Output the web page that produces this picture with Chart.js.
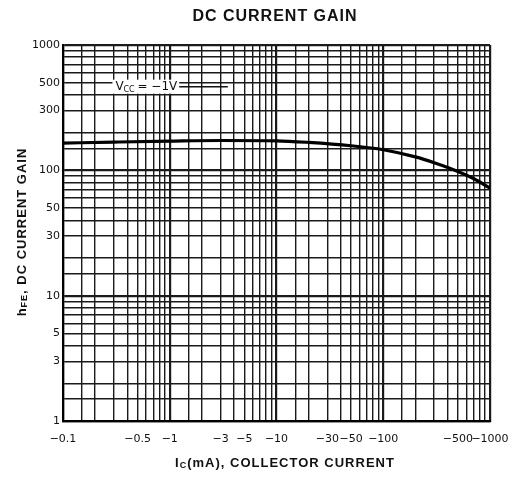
<!DOCTYPE html>
<html><head><meta charset="utf-8">
<script src="https://cdn.jsdelivr.net/npm/chart.js@4.4.1/dist/chart.umd.min.js"></script>
<style>html,body{margin:0;padding:0;background:#fff}canvas{display:block}</style>
</head><body>
<canvas id="c" width="516" height="483"></canvas>
<script>
// ---- data ----
const collectorCurrent = [0.1, 0.3, 1, 3, 10, 20, 50, 100, 200, 300, 500, 700, 1000];
const dcGain = [165, 168, 171, 173, 172, 167, 157, 146, 128, 115, 98, 86, 72];
const xTickValues = [0.1, 0.5, 1, 3, 5, 10, 30, 50, 100, 500, 1000];
const xTickLabels = ['−0.1', '−0.5', '−1', '−3', '−5', '−10', '−30', '−50', '−100', '−500', '−1000'];
const yTickValues = [1, 3, 5, 10, 30, 50, 100, 300, 500, 1000];
const yTickLabels = ['1', '3', '5', '10', '30', '50', '100', '300', '500', '1000'];
const gridMantissas = [1, 1.5, 2, 3, 4, 5, 6, 7, 8, 9];

function gridValues(min, max) {
  const out = [];
  for (let e = Math.round(Math.log10(min)); e <= Math.round(Math.log10(max)); e++) {
    for (const m of gridMantissas) {
      const v = m * Math.pow(10, e);
      if (v >= min * 0.9999 && v <= max * 1.0001) out.push(v);
    }
  }
  return out;
}
function labelFor(v, vals, labels) {
  for (let i = 0; i < vals.length; i++) {
    if (Math.abs(Math.log10(v) - Math.log10(vals[i])) < 1e-6) return labels[i];
  }
  return '';
}
function isDecade(v) { return Math.abs(Math.log10(v) - Math.round(Math.log10(v))) < 1e-6; }

function drawParts(ctx, parts, x, y, spacing) {
  ctx.letterSpacing = spacing;
  let w = 0;
  for (const p of parts) { ctx.font = p.font; p.w = ctx.measureText(p.t).width; w += p.w; }
  let cx = x - w / 2;
  ctx.textAlign = 'left';
  ctx.textBaseline = 'middle';
  for (const p of parts) { ctx.font = p.font; ctx.fillText(p.t, cx, y + (p.dy || 0)); cx += p.w; }
  ctx.letterSpacing = '0px';
}

const decor = {
  id: 'decor',
  afterDatasetsDraw(chart) {
    const ctx = chart.ctx;
    const xs = chart.scales.x, ys = chart.scales.y;
    ctx.save();
    // annotation V_CC = -1 V
    const ax = xs.getPixelForValue(0.31), ay = ys.getPixelForValue(465);
    const lx = xs.getPixelForValue(3.5);
    ctx.font = '12px "DejaVu Sans"';
    const tw = 22 + ctx.measureText('= −1V').width;
    ctx.fillStyle = '#fff';
    ctx.fillRect(ax - 3, ay - 7, tw + 5, 14);
    ctx.strokeStyle = '#111';
    ctx.lineWidth = 1.5;
    ctx.beginPath(); ctx.moveTo(ax + tw + 2, ay); ctx.lineTo(lx, ay); ctx.stroke();
    ctx.fillStyle = '#111';
    ctx.textAlign = 'left'; ctx.textBaseline = 'middle';
    ctx.fillText('V', ax, ay);
    ctx.font = '8px "DejaVu Sans"';
    ctx.fillText('CC', ax + 8, ay + 3);
    ctx.font = '12px "DejaVu Sans"';
    ctx.fillText('= −1V', ax + 22, ay);
    // chart title
    drawParts(ctx, [{t: 'DC CURRENT GAIN', font: 'bold 16px "Liberation Sans"'}], 275, 17, '1px');
    // x axis title
    drawParts(ctx, [
      {t: 'I', font: 'bold 13px "Liberation Sans"'},
      {t: 'C', font: 'bold 9px "Liberation Sans"', dy: 3},
      {t: '(mA), COLLECTOR CURRENT', font: 'bold 13px "Liberation Sans"'}
    ], 285, 463, '1px');
    // y axis title
    ctx.translate(22, 232);
    ctx.rotate(-Math.PI / 2);
    drawParts(ctx, [
      {t: 'h', font: 'bold 13px "Liberation Sans"'},
      {t: 'FE', font: 'bold 9px "Liberation Sans"', dy: 3},
      {t: ', DC CURRENT GAIN', font: 'bold 13px "Liberation Sans"'}
    ], 0, 0, '1px');
    ctx.restore();
  }
};

const gridStyle = {
  color: '#1a1a1a',
  lineWidth: (c) => (c.tick && isDecade(c.tick.value)) ? 2.2 : 1.4,
  drawTicks: false
};

new Chart(document.getElementById('c'), {
  type: 'line',
  data: {
    datasets: [{
      data: collectorCurrent.map((x, i) => ({x: x, y: dcGain[i]})),
      borderColor: '#000',
      borderWidth: 3.2,
      pointRadius: 0,
      cubicInterpolationMode: 'monotone',
      fill: false
    }]
  },
  options: {
    responsive: false,
    devicePixelRatio: 1,
    animation: false,
    layout: {padding: {left: 0, right: 26, top: 45, bottom: 0}},
    plugins: {legend: {display: false}, title: {display: false}, tooltip: {enabled: false}},
    scales: {
      x: {
        type: 'logarithmic', min: 0.1, max: 1000,
        afterBuildTicks: (s) => { s.ticks = gridValues(0.1, 1000).map(v => ({value: v})); },
        afterFit: (s) => { s.height = 62; s.paddingLeft = 0; s.paddingRight = 0; },
        grid: gridStyle,
        border: {display: true, color: '#000', width: 2.2},
        ticks: {
          autoSkip: false, maxRotation: 0, padding: 12, color: '#111',
          font: {family: '"DejaVu Sans"', size: 11},
          callback: (v) => labelFor(v, xTickValues, xTickLabels)
        }
      },
      y: {
        type: 'logarithmic', min: 1, max: 1000,
        afterBuildTicks: (s) => { s.ticks = gridValues(1, 1000).map(v => ({value: v})); },
        afterFit: (s) => { s.width = 63; s.paddingTop = 0; s.paddingBottom = 0; },
        grid: gridStyle,
        border: {display: true, color: '#000', width: 2.2},
        ticks: {
          autoSkip: false, padding: 3, color: '#111',
          font: {family: '"DejaVu Sans"', size: 11},
          callback: (v) => labelFor(v, yTickValues, yTickLabels)
        }
      }
    }
  },
  plugins: [decor]
});
</script>
</body></html>
